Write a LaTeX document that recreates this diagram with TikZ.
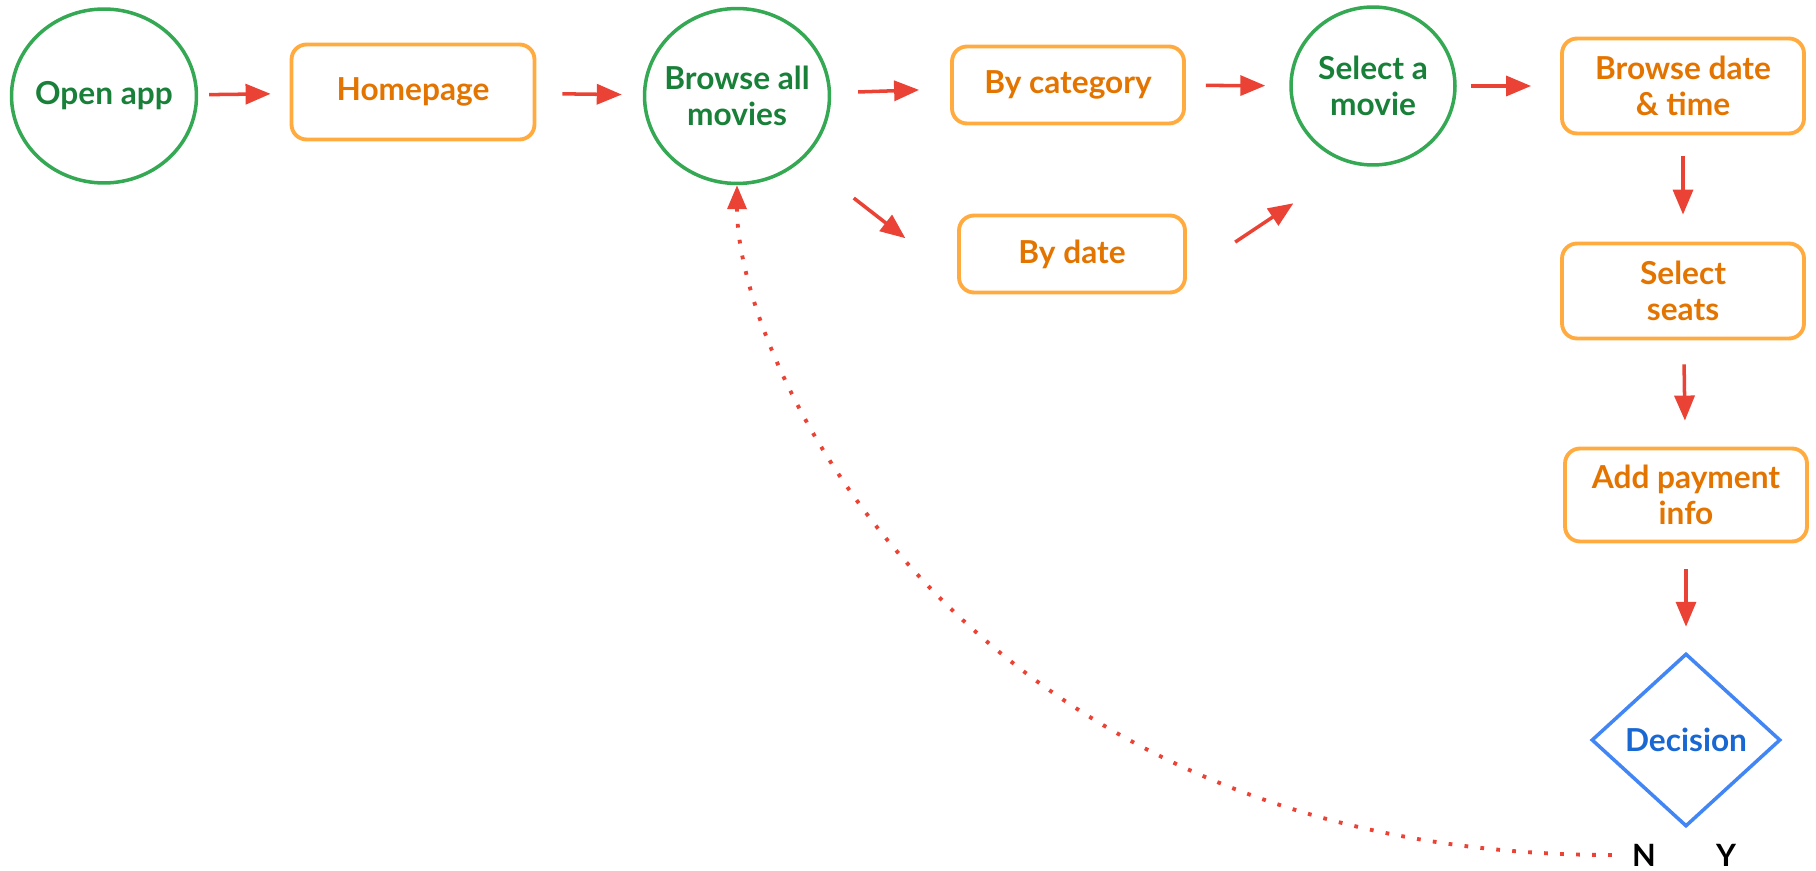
\documentclass[tikz,border=0pt]{standalone}
\usepackage{fontspec}
\setmainfont{Lato}
\usepackage{tikz}
\usetikzlibrary{arrows.meta}
\usetikzlibrary{shapes.geometric}

\definecolor{lgreen}{HTML}{34A853}
\definecolor{dgreen}{HTML}{188038}
\definecolor{lorange}{HTML}{FFAB40}
\definecolor{dorange}{HTML}{E37400}
\definecolor{lblue}{HTML}{4285F4}
\definecolor{dblue}{HTML}{1967D2}
\definecolor{ared}{HTML}{EA4335}

\tikzset{
  every node/.style={font=\bfseries\fontsize{18}{20.5}\selectfont, align=center},
  round/.style={ellipse, draw=lgreen, line width=2pt, text=dgreen, inner xsep=-0.2cm, inner ysep=0pt},
  box/.style={rectangle, rounded corners=0.3cm, draw=lorange, line width=2.2pt, text=dorange, inner sep=0pt},
  choice/.style={diamond, draw=lblue, line width=2pt, text=dblue, inner sep=0pt},
  yn/.style={font=\bfseries\fontsize{17.5}{19}\selectfont, inner sep=0pt},
  flow/.style={draw=ared, line width=2pt, -{Triangle[length=0.5cm,width=0.4cm]}},
  back/.style={draw=ared, line width=2.2pt, dash pattern=on 0.075cm off 0.245cm, -{Triangle[length=0.48cm,width=0.38cm]}},
}

\begin{document}
\begin{tikzpicture}[x=0.02cm,y=-0.02cm]
\useasboundingbox (0,0) rectangle (1816,871);

% top row
\node[round] [minimum width=3.7cm, minimum height=3.48cm] (open) at (104,96) {Open app};
\node[box] [minimum width=4.86cm, minimum height=1.9cm] (home) at (413,92) {Homepage};
\node[round] [minimum width=3.7cm, minimum height=3.5cm] (browse) at (737,96) {Browse all\\movies};
\node[box] [minimum width=4.64cm, minimum height=1.54cm] (bycat) at (1068,85) {By category};
\node[box] [minimum width=4.52cm, minimum height=1.54cm] (bydate) at (1072,254) {By date};
\node[round] [minimum width=3.28cm, minimum height=3.16cm] (select) at (1373,86) {Select a\\movie};

% right column
\node[box] [minimum width=4.84cm, minimum height=1.9cm] (bdate) at (1683,86) {Browse date\\\& time};
\node[box] [minimum width=4.84cm, minimum height=1.9cm] (seats) at (1683,291) {Select\\seats};
\node[box] [minimum width=4.84cm, minimum height=1.86cm] (pay) at (1686,495) {Add payment\\info};
\node[choice] [minimum width=3.78cm, minimum height=3.46cm] (decide) at (1686,740) {Decision};
\node[yn] (n) at (1644,855) {N};
\node[yn] (y) at (1726,855) {Y};

% arrows
\foreach \a/\b/\s/\e in {open/home/.22/.38, home/browse/.52/.42, browse/bycat/.54/.62,
    bycat/select/.40/.48, select/bdate/.28/.58, bdate/seats/.42/.54,
    seats/pay/.48/.52, pay/decide/.52/.50}
  \draw[flow] [shorten <=\s cm, shorten >=\e cm] (\a) -- (\b);
\draw[flow] [shorten <=1.27cm, shorten >=1.31cm] (browse.south east) -- (bydate.-168);
\draw[flow] [shorten <=1.16cm, shorten >=1.41cm] (bydate.-10) -- (select.-105);

% back to browsing
\draw[back] [shorten <=0.4cm] (n.west) .. controls +(-665,0) and +(0,180) .. (browse.south);
\end{tikzpicture}
\end{document}
